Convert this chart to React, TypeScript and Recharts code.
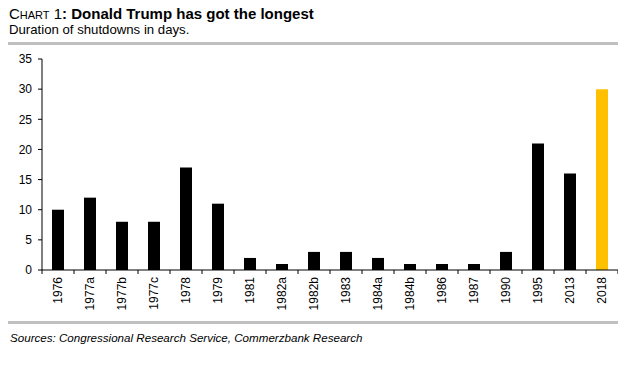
import { BarChart, Bar, XAxis, YAxis, Cell } from 'recharts';

const categories = [
    '1976', '1977a', '1977b', '1977c', '1978', '1979', '1981', '1982a', '1982b',
    '1983', '1984a', '1984b', '1986', '1987', '1990', '1995', '2013', '2018',
];
const shutdownDays = [10, 12, 8, 8, 17, 11, 2, 1, 3, 3, 2, 1, 1, 1, 3, 21, 16, 30];
const yTicks = [0, 5, 10, 15, 20, 25, 30, 35];
const highlighted = '2018';

const data = categories.map((year, i) => ({ year, days: shutdownDays[i] }));

const FONT = 'Arial, "Liberation Sans", sans-serif';
const CHART_W = 610;
const Y_AXIS_W = 34;
const BAND = (CHART_W - Y_AXIS_W) / categories.length;

// category label plus tick marks on the band edges
function YearTick(props: any) {
    const { x, y, payload, index } = props;
    const ty = y + 7;
    return (
        <g>
            <line x1={x - BAND / 2} x2={x - BAND / 2} y1={y} y2={y + 4} stroke="#000" />
            {index === categories.length - 1 && (
                <line x1={x + BAND / 2} x2={x + BAND / 2} y1={y} y2={y + 4} stroke="#000" />
            )}
            <text
                x={x}
                y={ty}
                transform={`rotate(-90, ${x}, ${ty})`}
                textAnchor="end"
                dy="0.35em"
                fontSize={12}
                fontFamily={FONT}
                fill="#000"
            >
                {payload.value}
            </text>
        </g>
    );
}

export default function App() {
    return (
        <div style={{ position: 'absolute', left: 0, top: 0, width: 633, height: 370, background: '#fff', fontFamily: FONT, color: '#000' }}>
            <div style={{ position: 'absolute', left: 9, top: 6, fontSize: 15, lineHeight: '15px', whiteSpace: 'nowrap' }}>
                <span style={{ fontVariant: 'small-caps' }}>Chart 1</span>
                <b>: Donald Trump has got the longest</b>
            </div>
            <div style={{ position: 'absolute', left: 9, top: 23, fontSize: 13.2, lineHeight: '13px', whiteSpace: 'nowrap' }}>
                Duration of shutdowns in days.
            </div>
            <div style={{ position: 'absolute', left: 8, top: 42, width: 610, height: 3, background: '#c0c0c0' }} />

            <div style={{ position: 'absolute', left: 8, top: 50 }}>
                <BarChart
                    width={CHART_W}
                    height={260}
                    data={data}
                    margin={{ top: 9, right: 0, bottom: 0, left: 0 }}
                    barCategoryGap={0}
                >
                    <YAxis
                        width={Y_AXIS_W}
                        domain={[0, 35]}
                        ticks={yTicks}
                        interval={0}
                        tickSize={4}
                        tickMargin={6}
                        axisLine={{ stroke: '#000' }}
                        tickLine={{ stroke: '#000' }}
                        tick={{ fontSize: 12, fill: '#000', fontFamily: FONT }}
                    />
                    <XAxis
                        dataKey="year"
                        height={40}
                        interval={0}
                        axisLine={{ stroke: '#000' }}
                        tickLine={false}
                        tickSize={0}
                        tickMargin={0}
                        tick={<YearTick />}
                    />
                    <Bar dataKey="days" barSize={12} isAnimationActive={false}>
                        {data.map((d) => (
                            <Cell key={d.year} fill={d.year === highlighted ? '#ffc000' : '#000'} />
                        ))}
                    </Bar>
                </BarChart>
            </div>

            <div style={{ position: 'absolute', left: 8, top: 321, width: 610, height: 3, background: '#c0c0c0' }} />
            <div style={{ position: 'absolute', left: 10, top: 332, fontSize: 11.6, lineHeight: '12px', fontStyle: 'italic', whiteSpace: 'nowrap' }}>
                Sources: Congressional Research Service, Commerzbank Research
            </div>
        </div>
    );
}
